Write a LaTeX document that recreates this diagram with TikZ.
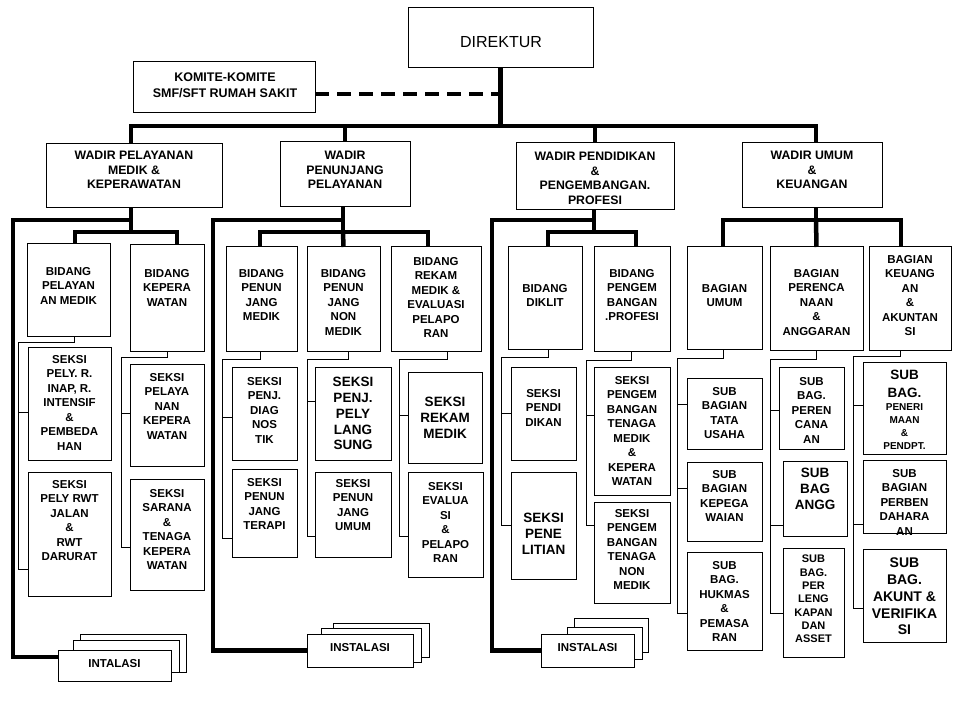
\documentclass[tikz,border=0pt]{standalone}
\usepackage{fontspec}
\setmainfont{Liberation Sans}
\tikzset{
 box/.style={draw, line width=1pt, inner sep=0, outer sep=0, anchor=north west, fill=white},
 txt/.style={font=\bfseries\fontsize{11.5}{14.5}\selectfont, align=center, inner sep=0, anchor=north},
 wtx/.style={txt, font=\bfseries\fontsize{12.3}{14.8}\selectfont},
 big/.style={txt, font=\bfseries\fontsize{13.5}{15.8}\selectfont},
 bigger/.style={txt, font=\bfseries\fontsize{14}{16.7}\selectfont},
 sml/.style={txt, font=\bfseries\fontsize{11}{13.3}\selectfont},
 tny/.style={txt, font=\bfseries\fontsize{10}{13}\selectfont},
 thk/.style={line width=4.5pt, line join=miter},
 thn/.style={line width=0.8pt},
 dsh/.style={line width=4pt, dash pattern=on 14pt off 8pt},
}
\newcommand\bx[8][txt]{%
 \node[box, minimum width={#5-#3}, minimum height={#6-#4}] (#2) at (#3,#4) {};
 \node[#1] (#2-t) at (#2.north |- 0,#7) {#8};}
\begin{document}
\begin{tikzpicture}[x=1pt,y=-1pt]
\fill[white] (0,0) rectangle (963,711);
\useasboundingbox (0,0) rectangle (963,711);

% top
\node[box, minimum width=185, minimum height=60] (dir) at (408,8) {};
\node[font=\fontsize{16}{19}\selectfont, inner sep=0] (dir-t) at (501,42) {DIREKTUR};
\node[box, minimum width=182, minimum height=51] (kom) at (133,62) {};
\node[txt, font=\bfseries\fontsize{12.5}{16}\selectfont] (kom-t) at (225,72.5) {KOMITE-KOMITE\\SMF/SFT RUMAH SAKIT};

\bx[wtx]{w1}{46}{144}{222}{208}{150.6}{WADIR PELAYANAN\\MEDIK \&\\KEPERAWATAN}
\bx[wtx]{w2}{280}{142}{410}{207}{150.6}{WADIR\\PENUNJANG\\PELAYANAN}
\bx[wtx]{w3}{516}{143}{674}{210}{151.6}{WADIR PENDIDIKAN\\\&\\PENGEMBANGAN.\\PROFESI}
\bx[wtx]{w4}{742}{143}{882}{208}{150.6}{WADIR UMUM\\\&\\KEUANGAN}

% column 1
\bx{b1a}{27}{244}{110}{336}{267}{BIDANG\\PELAYAN\\AN MEDIK}
\bx{b1b}{130}{245}{204}{351}{269}{BIDANG\\KEPERA\\WATAN}
\bx{s1a}{28}{347}{111}{460}{355}{SEKSI\\PELY. R.\\INAP, R.\\INTENSIF\\\&\\PEMBEDA\\HAN}
\bx{s1b}{28}{472}{111}{596}{480}{SEKSI\\PELY RWT\\JALAN\\\&\\RWT\\DARURAT}
\bx{s1c}{130}{364}{204}{466}{373}{SEKSI\\PELAYA\\NAN\\KEPERA\\WATAN}
\bx{s1d}{130}{479}{204}{590}{489}{SEKSI\\SARANA\\\&\\TENAGA\\KEPERA\\WATAN}

% column 2
\bx{b2a}{226}{247}{297}{351}{269}{BIDANG\\PENUN\\JANG\\MEDIK}
\bx{b2b}{307}{247}{380}{351}{269}{BIDANG\\PENUN\\JANG\\NON\\MEDIK}
\bx{b2c}{391}{247}{481}{351}{257}{BIDANG\\REKAM\\MEDIK \&\\EVALUASI\\PELAPO\\RAN}
\bx{s2a}{232}{367}{297}{460}{377}{SEKSI\\PENJ.\\DIAG\\NOS\\TIK}
\bx{s2b}{232}{469}{297}{557}{478}{SEKSI\\PENUN\\JANG\\TERAPI}
\bx[big]{s2c}{315}{367}{391}{460}{377}{SEKSI\\PENJ.\\PELY\\LANG\\SUNG}
\bx{s2d}{315}{472}{391}{557}{479}{SEKSI\\PENUN\\JANG\\UMUM}
\bx[big]{s2e}{408}{372}{482}{463}{397}{SEKSI\\REKAM\\MEDIK}
\bx{s2f}{408}{472}{483}{577}{482}{SEKSI\\EVALUA\\SI\\\&\\PELAPO\\RAN}

% column 3
\bx{b3a}{508}{247}{582}{349}{284}{BIDANG\\DIKLIT}
\bx{b3b}{594}{247}{670}{351}{269}{BIDANG\\PENGEM\\BANGAN\\.PROFESI}
\bx{s3a}{511}{367}{576}{460}{389}{SEKSI\\PENDI\\DIKAN}
\bx[big]{s3b}{511}{472}{576}{579}{513}{SEKSI\\PENE\\LITIAN}
\bx{s3c}{594}{367}{670}{495}{376}{SEKSI\\PENGEM\\BANGAN\\TENAGA\\MEDIK\\\&\\KEPERA\\WATAN}
\bx{s3d}{594}{502}{670}{603}{509}{SEKSI\\PENGEM\\BANGAN\\TENAGA\\NON\\MEDIK}

% column 4
\bx{b4a}{687}{247}{762}{349}{284}{BAGIAN\\UMUM}
\bx{b4b}{770}{247}{863}{350}{269}{BAGIAN\\PERENCA\\NAAN\\\&\\ANGGARAN}
\bx{b4c}{869}{247}{951}{350}{255}{BAGIAN\\KEUANG\\AN\\\&\\AKUNTAN\\SI}
\bx{s4a}{687}{378}{762}{449}{387}{SUB\\BAGIAN\\TATA\\USAHA}
\bx{s4b}{687}{462}{762}{541}{470}{SUB\\BAGIAN\\KEPEGA\\WAIAN}
\bx{s4c}{687}{552}{762}{650}{561}{SUB\\BAG.\\HUKMAS\\\&\\PEMASA\\RAN}
\bx{s4d}{779}{367}{844}{449}{377}{SUB\\BAG.\\PEREN\\CANA\\AN}
\bx[big]{s4e}{783}{461}{847}{536}{468}{SUB\\BAG\\ANGG}
\bx[sml]{s4f}{783}{548}{844}{657}{555}{SUB\\BAG.\\PER\\LENG\\KAPAN\\DAN\\ASSET}
\bx[{big,font=\bfseries\fontsize{13.5}{18}\selectfont}]{s4g}{863}{362}{946}{454}{370}{SUB\\BAG.}
\node[tny] (s4g-u) at (s4g.north |- 0,403.5) {PENERI\\MAAN\\\&\\PENDPT.};
\bx{s4h}{863}{460}{946}{533}{469}{SUB\\BAGIAN\\PERBEN\\DAHARA\\AN}
\bx[bigger]{s4i}{863}{549}{946}{642}{558}{SUB\\BAG.\\AKUNT \&\\VERIFIKA\\SI}

% instalasi stacks
\node[box, minimum width=106, minimum height=38] (i1c) at (80,634) {};
\node[box, minimum width=106, minimum height=32] (i1b) at (73,640) {};
\node[box, minimum width=113, minimum height=31] (i1f) at (58,650) {};
\node[txt, anchor=center] (i1-t) at ([shift={(0,-2)}]i1f.center) {INTALASI};
\node[box, minimum width=96, minimum height=34] (i2c) at (333,623) {};
\node[box, minimum width=100, minimum height=34] (i2b) at (321,628) {};
\node[box, minimum width=106, minimum height=33] (i2f) at (307,634) {};
\node[txt, anchor=center] (i2-t) at ([shift={(0,-3)}]i2f.center) {INSTALASI};
\node[box, minimum width=74, minimum height=34] (i3c) at (574,618) {};
\node[box, minimum width=75, minimum height=32] (i3b) at (567,627) {};
\node[box, minimum width=93, minimum height=33] (i3f) at (541,634) {};
\node[txt, anchor=center] (i3-t) at ([shift={(0,-3)}]i3f.center) {INSTALASI};

% main connectors
\coordinate (bus) at (502,126);
\coordinate (dend) at (500,94);
\draw[dsh] (kom.east |- dend) -- (dend);
\draw[thk] (dir.south) -- (dir.south |- bus);
\draw[thk] ([shift={(-3,0)}]w1.north) |- (bus) -| ([shift={(4,0)}]w4.north);
\draw[thk] (w2.north) -- (w2.north |- bus);
\draw[thk] (w3.north) -- (w3.north |- bus);

% column 1 connectors
\coordinate (L1) at (13,220);
\coordinate (j1) at (131,232);
\draw[thk] ([shift={(-3,0)}]w1.south) |- (L1) |- ([shift={(0,-8.5)}]i1f.west);
\draw[thk] ([shift={(-3,0)}]w1.south) -- (j1);
\draw[thk] ([shift={(6.5,0)}]b1a.north) |- (j1) -| ([shift={(10,0)}]b1b.north);
\coordinate (t1a) at (18,342);
\draw[thn] ([shift={(5.5,0)}]b1a.south) |- (t1a) |- ([shift={(0,35)}]s1b.west);
\draw[thn] ([shift={(0,8.5)}]s1a.west) -- ++(-10,0);
\coordinate (t1b) at (121,357);
\draw[thn] (b1b.south) |- (t1b) |- ([shift={(0,12.5)}]s1d.west);
\draw[thn] ([shift={(0,-2)}]s1c.west) -- ++(-9,0);

% column 2 connectors
\coordinate (L2) at (213,220);
\coordinate (j2) at (343,232);
\draw[thk] ([shift={(-2,0)}]w2.south) |- (L2) |- (i2f.west);
\draw[thk] ([shift={(-2,0)}]w2.south) -- (j2);
\draw[thk] ([shift={(-1.5,0)}]b2a.north) |- (j2) -| ([shift={(-8,0)}]b2c.north);
\draw[thk] (j2) -- (b2b.north);
\coordinate (t2a) at (222,359);
\draw[thn] ([shift={(-1.5,0)}]b2a.south) |- (t2a) |- ([shift={(0,25)}]s2b.west);
\draw[thn] ([shift={(0,3.5)}]s2a.west) -- ++(-10,0);
\coordinate (t2b) at (307,359);
\draw[thn] ([shift={(4.5,0)}]b2b.south) |- (t2b) |- ([shift={(0,21.5)}]s2d.west);
\draw[thn] ([shift={(0,-12.5)}]s2c.west) -- ++(-8,0);
\coordinate (t2c) at (399,359);
\draw[thn] ([shift={(11,0)}]b2c.south) |- (t2c) |- ([shift={(0,11.5)}]s2f.west);
\draw[thn] ([shift={(0,-2.5)}]s2e.west) -- ++(-9,0);

% column 3 connectors
\coordinate (L3) at (492,220);
\coordinate (j3) at (594,232);
\draw[thk] ([shift={(-1,0)}]w3.south) |- (L3) |- (i3f.west);
\draw[thk] ([shift={(-1,0)}]w3.south) -- (j3);
\draw[thk] ([shift={(3,0)}]b3a.north) |- (j3) -| ([shift={(4,0)}]b3b.north);
\coordinate (t3a) at (501,357);
\draw[thn] ([shift={(3,0)}]b3a.south) |- (t3a) |- (s3b.west);
\draw[thn] (s3a.west) -- ++(-10,0);
\coordinate (t3b) at (586,360);
\draw[thn] ([shift={(-1,0)}]b3b.south) |- (t3b) |- ([shift={(0,-27.5)}]s3d.west);
\draw[thn] ([shift={(0,-16)}]s3c.west) -- ++(-8,0);

% column 4 connectors
\coordinate (j4) at (816,220);
\draw[thk] ([shift={(4,0)}]w4.south) -- (j4);
\draw[thk] ([shift={(-1.5,0)}]b4a.north) |- (j4) -| ([shift={(-9,0)}]b4c.north);
\draw[thk] (j4) -- (b4b.north);
\coordinate (t4a) at (677,358);
\draw[thn] ([shift={(-1.5,0)}]b4a.south) |- (t4a) |- ([shift={(0,12)}]s4c.west);
\draw[thn] ([shift={(0,-9.5)}]s4a.west) -- ++(-10,0);
\draw[thn] ([shift={(0,-13.5)}]s4b.west) -- ++(-10,0);
\coordinate (t4b) at (770,359);
\draw[thn] ([shift={(-0.5,0)}]b4b.south) |- (t4b) |- ([shift={(0,10.5)}]s4f.west);
\draw[thn] ([shift={(0,2)}]s4d.west) -- ++(-9,0);
\draw[thn] ([shift={(0,26.5)}]s4e.west) -- ++(-13,0);
\coordinate (t4c) at (853,356);
\draw[thn] ([shift={(-10,0)}]b4c.south) |- (t4c) |- ([shift={(0,12.5)}]s4i.west);
\draw[thn] ([shift={(0,-3)}]s4g.west) -- ++(-10,0);
\draw[thn] ([shift={(0,27.5)}]s4h.west) -- ++(-10,0);
\end{tikzpicture}
\end{document}
